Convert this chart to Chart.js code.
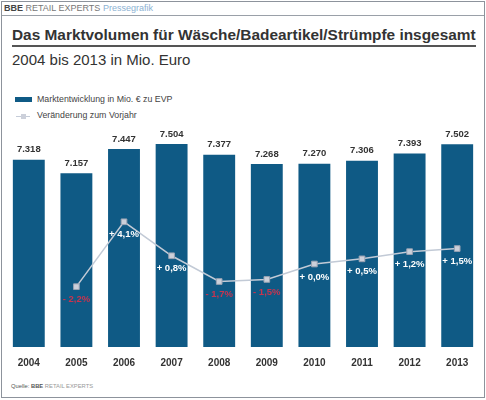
<!DOCTYPE html>
<html lang="de">

<head>
    <meta charset="UTF-8">
    <title>Marktvolumen Wäsche</title>
    <style>
        body { margin: 0; width: 486px; height: 400px; overflow: hidden; background: #fff; font-family: "Liberation Sans", Arial, sans-serif; }
        #rahmen { position: absolute; left: 1px; top: 1px; width: 482px; height: 395px; border: 1px solid #8d939c; }
        #kopf { position: absolute; left: 4px; top: 3px; font-size: 9px; color: #777; }
        #kopf b { color: #444; }
        #kopf span { color: #8cb2d3; }
        #kopflinie { position: absolute; left: 2px; top: 15px; width: 482px; border-top: 1px solid #9aa0a8; }
        #titel { position: absolute; left: 12px; top: 26px; width: 464px; font-size: 15.4px; font-weight: bold; color: #333; white-space: nowrap; border-bottom: 2px solid #555; padding-bottom: 1px; }
        #untertitel { position: absolute; left: 12px; top: 51px; font-size: 15px; color: #333; }
        .leg { position: absolute; left: 37px; font-size: 8.8px; color: #444; }
        #quelle { position: absolute; left: 11px; top: 383px; font-size: 5.8px; color: #555; }
        #quelle span { color: #999; }
        canvas { position: absolute; left: 0; top: 0; }
    </style>
</head>

<body>
    <div id="rahmen"></div>
    <div id="kopf"><b>BBE</b> RETAIL EXPERTS <span>Pressegrafik</span></div>
    <div id="kopflinie"></div>
    <div id="titel">Das Marktvolumen für Wäsche/Badeartikel/Strümpfe insgesamt</div>
    <div id="untertitel">2004 bis 2013 in Mio. Euro</div>

    <div style="position:absolute;left:15px;top:97px;width:17px;height:5px;background:#0f5a85"></div>
    <div class="leg" style="top:94px">Marktentwicklung in Mio. € zu EVP</div>
    <div style="position:absolute;left:16px;top:116px;width:14px;height:1px;background:#c5ccd8"></div>
    <div style="position:absolute;left:21px;top:114px;width:5px;height:5px;background:#ccd0da"></div>
    <div class="leg" style="top:110px">Veränderung zum Vorjahr</div>

    <div id="quelle">Quelle: <b>BBE</b> <span>RETAIL EXPERTS</span></div>

    <canvas id="grafico" width="486" height="400"></canvas>

    <script src="https://cdn.jsdelivr.net/npm/chart.js"></script>
    <script>
        // Daten
        let jahre = ["2004", "2005", "2006", "2007", "2008", "2009", "2010", "2011", "2012", "2013"]
        let marktvolumen = [7318, 7157, 7447, 7504, 7377, 7268, 7270, 7306, 7393, 7502]
        let veraenderung = [null, -2.2, 4.1, 0.8, -1.7, -1.5, 0.0, 0.5, 1.2, 1.5]
        let volumenLabels = ["7.318", "7.157", "7.447", "7.504", "7.377", "7.268", "7.270", "7.306", "7.393", "7.502"]
        let prozentLabels = ["", "- 2,2%", "+ 4,1%", "+ 0,8%", "- 1,7%", "- 1,5%", "+ 0,0%", "+ 0,5%", "+ 1,2%", "+ 1,5%"]

        // Beschriftungen über Balken und unter Punkten
        let beschriftung = {
            id: "beschriftung",
            afterDatasetsDraw(chart) {
                let ctx = chart.ctx
                ctx.save()
                ctx.textAlign = "center"
                ctx.textBaseline = "middle"
                ctx.font = "bold 9.5px 'Liberation Sans', Arial, sans-serif"
                ctx.fillStyle = "#333"
                // dataset 1 = Balken
                chart.getDatasetMeta(1).data.forEach((balken, i) => {
                    ctx.fillText(volumenLabels[i], balken.x, balken.y - 10)
                })
                // dataset 0 = Linie
                chart.getDatasetMeta(0).data.forEach((punkt, i) => {
                    if (veraenderung[i] == null) return
                    ctx.fillStyle = veraenderung[i] < 0 ? "#c8344f" : "#ffffff"
                    ctx.fillText(prozentLabels[i], punkt.x, punkt.y + 13)
                })
                ctx.restore()
            }
        }

        new Chart(document.querySelector("#grafico"), {
            data: {
                labels: jahre,
                datasets: [
                    {
                        type: "line",
                        data: veraenderung,
                        yAxisID: "y2",
                        borderColor: "#c2cad6",
                        borderWidth: 1.5,
                        pointStyle: "rect",
                        pointRadius: 4,
                        pointBackgroundColor: "#ccd0da",
                        pointBorderColor: "#9aa3b3",
                        pointBorderWidth: 1,
                        order: 0
                    },
                    {
                        type: "bar",
                        data: marktvolumen,
                        yAxisID: "y",
                        backgroundColor: "#0f5a85",
                        categoryPercentage: 1,
                        barPercentage: 0.67,
                        order: 1
                    }
                ]
            },
            options: {
                responsive: false,
                animation: false,
                layout: { padding: { left: 3, right: 2, top: 125, bottom: 21 } },
                plugins: { legend: { display: false }, tooltip: { enabled: false } },
                scales: {
                    x: {
                        grid: { display: false, drawTicks: false },
                        border: { display: false },
                        ticks: { color: "#333", padding: 10, font: { family: "'Liberation Sans', Arial, sans-serif", size: 10, weight: "bold" } }
                    },
                    y: { display: false, min: 5100, max: 7730 },
                    y2: { display: false, min: -8.06, max: 13.5 }
                }
            },
            plugins: [beschriftung]
        })
    </script>
</body>

</html>
